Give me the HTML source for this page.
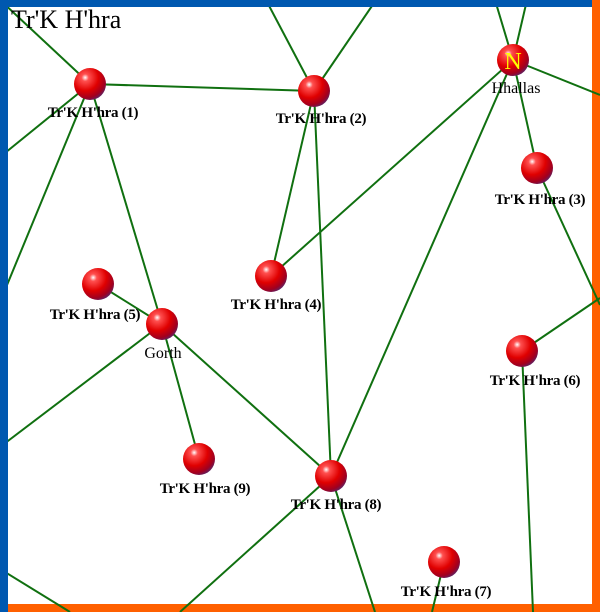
<!DOCTYPE html>
<html><head><meta charset="utf-8"><style>
body{margin:0;width:600px;height:612px;overflow:hidden;background:#fff}
svg{display:block}
.l{font-family:"Liberation Serif",serif;font-size:15px;font-weight:bold;fill:#000;letter-spacing:-0.3px}
.m{font-family:"Liberation Serif",serif;font-size:16px;fill:#000}
</style></head><body>
<svg width="600" height="612" viewBox="0 0 600 612">
<defs>
<radialGradient id="g" cx="0.35" cy="0.3" r="0.75">
<stop offset="0" stop-color="#fff"/>
<stop offset="0.15" stop-color="#ff5050"/>
<stop offset="0.55" stop-color="#e00000"/>
<stop offset="0.85" stop-color="#a00020"/>
<stop offset="1" stop-color="#602060"/>
</radialGradient>
</defs>
<rect x="0" y="0" width="600" height="612" fill="#fff"/>
<rect x="592" y="0" width="8" height="612" fill="#ff6000"/>
<rect x="0" y="604" width="600" height="8" fill="#ff6000"/>
<g stroke="#107010" stroke-width="2" fill="none">
<line x1="0" y1="0" x2="90" y2="84"/>
<line x1="90" y1="84" x2="314" y2="91"/>
<line x1="90" y1="84" x2="0" y2="157"/>
<line x1="90" y1="84" x2="0" y2="302"/>
<line x1="90" y1="84" x2="162" y2="324"/>
<line x1="314" y1="91" x2="266" y2="0"/>
<line x1="314" y1="91" x2="376" y2="0"/>
<line x1="314" y1="91" x2="271" y2="276"/>
<line x1="314" y1="91" x2="331" y2="476"/>
<line x1="513" y1="60" x2="495" y2="0"/>
<line x1="513" y1="60" x2="527" y2="0"/>
<line x1="513" y1="60" x2="600" y2="95"/>
<line x1="513" y1="60" x2="271" y2="276"/>
<line x1="513" y1="60" x2="331" y2="476"/>
<line x1="513" y1="60" x2="537" y2="168"/>
<line x1="537" y1="168" x2="600" y2="305"/>
<line x1="522" y1="351" x2="600" y2="298"/>
<line x1="522" y1="351" x2="533" y2="612"/>
<line x1="98" y1="284" x2="162" y2="324"/>
<line x1="162" y1="324" x2="199" y2="459"/>
<line x1="162" y1="324" x2="331" y2="476"/>
<line x1="162" y1="324" x2="0" y2="447"/>
<line x1="331" y1="476" x2="180" y2="612"/>
<line x1="331" y1="476" x2="375" y2="612"/>
<line x1="444" y1="562" x2="432" y2="612"/>
<line x1="0" y1="569" x2="70" y2="612"/>
</g>
<rect x="0" y="0" width="8" height="612" fill="#0058b0"/>
<rect x="0" y="0" width="592" height="7" fill="#0058b0"/>
<g fill="url(#g)">
<circle cx="90" cy="84" r="16"/>
<circle cx="314" cy="91" r="16"/>
<circle cx="513" cy="60" r="16"/>
<circle cx="537" cy="168" r="16"/>
<circle cx="271" cy="276" r="16"/>
<circle cx="98" cy="284" r="16"/>
<circle cx="162" cy="324" r="16"/>
<circle cx="522" cy="351" r="16"/>
<circle cx="199" cy="459" r="16"/>
<circle cx="331" cy="476" r="16"/>
<circle cx="444" cy="562" r="16"/>
</g>
<text x="513" y="69" text-anchor="middle" font-family="Liberation Serif,serif" font-size="24" fill="#ffff00">N</text>
<text x="11" y="28" font-family="Liberation Serif,serif" font-size="26" fill="#000">Tr'K H'hra</text>
<g class="l" text-anchor="middle">
<text x="93" y="117">Tr'K H'hra (1)</text>
<text x="321" y="123">Tr'K H'hra (2)</text>
<text x="540" y="204">Tr'K H'hra (3)</text>
<text x="276" y="309">Tr'K H'hra (4)</text>
<text x="95" y="319">Tr'K H'hra (5)</text>
<text x="535" y="385">Tr'K H'hra (6)</text>
<text x="205" y="493">Tr'K H'hra (9)</text>
<text x="336" y="509">Tr'K H'hra (8)</text>
<text x="446" y="596">Tr'K H'hra (7)</text>
</g>
<g class="m" text-anchor="middle">
<text x="516" y="93">Hhallas</text>
<text x="163" y="358">Gorth</text>
</g>
</svg>
</body></html>
